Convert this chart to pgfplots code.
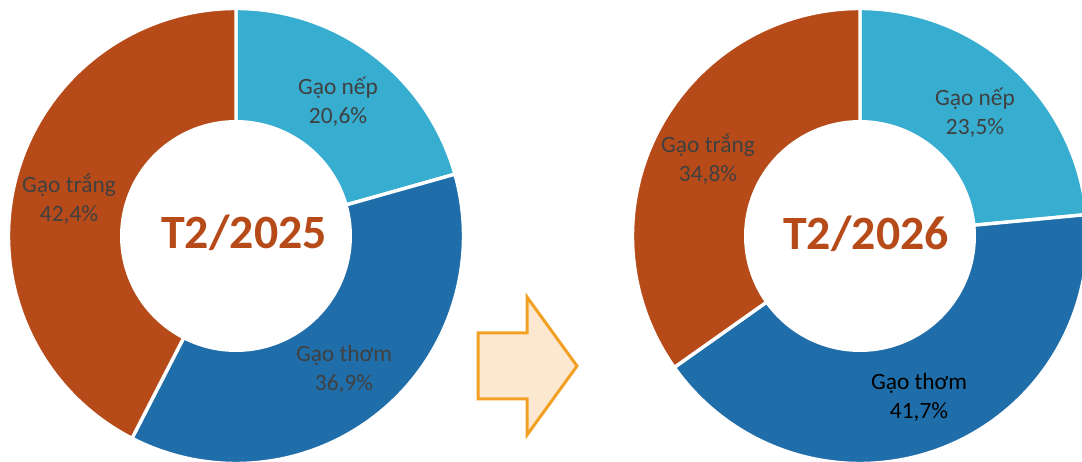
\documentclass[border=0pt]{standalone}
\usepackage{fontspec}
\setmainfont{Carlito}
\usepackage{pgfplots}
\pgfplotsset{compat=1.18}
\definecolor{nep}{HTML}{37AED0}
\definecolor{thom}{HTML}{1F6EA9}
\definecolor{trang}{HTML}{B74A19}
\definecolor{lbl}{HTML}{404040}
\definecolor{arrline}{HTML}{F2A024}
\definecolor{arrfill}{HTML}{FCE8D1}
% data (percent)
\def\Anep{20.6}\def\Athom{36.9}\def\Atrang{42.4}
\def\Bnep{23.5}\def\Bthom{41.7}\def\Btrang{34.8}
% angles (clockwise from top, normalised by the sum)
\pgfmathsetmacro{\Asum}{\Anep+\Athom+\Atrang}
\pgfmathsetmacro{\Aa}{90-360*\Anep/\Asum}
\pgfmathsetmacro{\Ab}{\Aa-360*\Athom/\Asum}
\pgfmathsetmacro{\Bsum}{\Bnep+\Bthom+\Btrang}
\pgfmathsetmacro{\Ba}{90-360*\Bnep/\Bsum}
\pgfmathsetmacro{\Bb}{\Ba-360*\Bthom/\Bsum}
\newcommand{\slice}[4]{% cx, from, to, colour
  \addplot[fill=#4, draw=white, line width=1.7pt, line join=round, domain=#2:#3, samples=140, variable=\t]
    ({#1+227.5*cos(\t)},{225+227.5*sin(\t)}) -- (axis cs:#1,225) -- cycle;
}
\newcommand{\hole}[1]{%
  \addplot[fill=white, draw=none, domain=0:360, samples=160, variable=\t]
    ({#1+116*cos(\t)},{225+116*sin(\t)}) -- cycle;
}
\begin{document}
\begin{tikzpicture}
\begin{axis}[
  width=541pt, height=230.5pt, scale only axis,
  xmin=0, xmax=1082, ymin=0, ymax=461,
  hide axis, clip=true,
]
\coordinate (BL) at (axis cs:0,0);
\coordinate (TR) at (axis cs:1082,461);
% left donut
\slice{236}{\Aa}{90}{nep}
\slice{236}{\Ab}{\Aa}{thom}
\slice{236}{-270}{\Ab}{trang}
\hole{236}
% right donut
\slice{860}{\Ba}{90}{nep}
\slice{860}{\Bb}{\Ba}{thom}
\slice{860}{-270}{\Bb}{trang}
\hole{860}
% arrow
\addplot[fill=arrfill, draw=arrline, line width=1.5pt, line join=miter]
  coordinates {(478,128) (527,128) (527,164) (577,95) (527,26) (527,62) (478,62)} -- cycle;
% centre titles
\node[font=\fontsize{23.9}{28}\selectfont\bfseries, text=trang] at (axis cs:244,228) {T2/2025};
\node[font=\fontsize{23.9}{28}\selectfont\bfseries, text=trang] at (axis cs:866,227) {T2/2026};
% labels
\tikzset{lab/.style={font=\fontsize{11.7}{14.5}\selectfont, align=center, text=lbl, inner sep=0pt}}
\node[lab] at (axis cs:338,359) {Gạo nếp\\20,6\%};
\node[lab] at (axis cs:344,91.5) {Gạo thơm\\36,9\%};
\node[lab] at (axis cs:69,261.5) {Gạo trắng\\42,4\%};
\node[lab] at (axis cs:975,348.5) {Gạo nếp\\23,5\%};
\node[lab] at (axis cs:708,301.5) {Gạo trắng\\34,8\%};
\node[lab, text=black] at (axis cs:919,63.5) {Gạo thơm\\41,7\%};
\end{axis}
\pgfresetboundingbox
\useasboundingbox (BL) rectangle (TR);
\end{tikzpicture}
\end{document}
